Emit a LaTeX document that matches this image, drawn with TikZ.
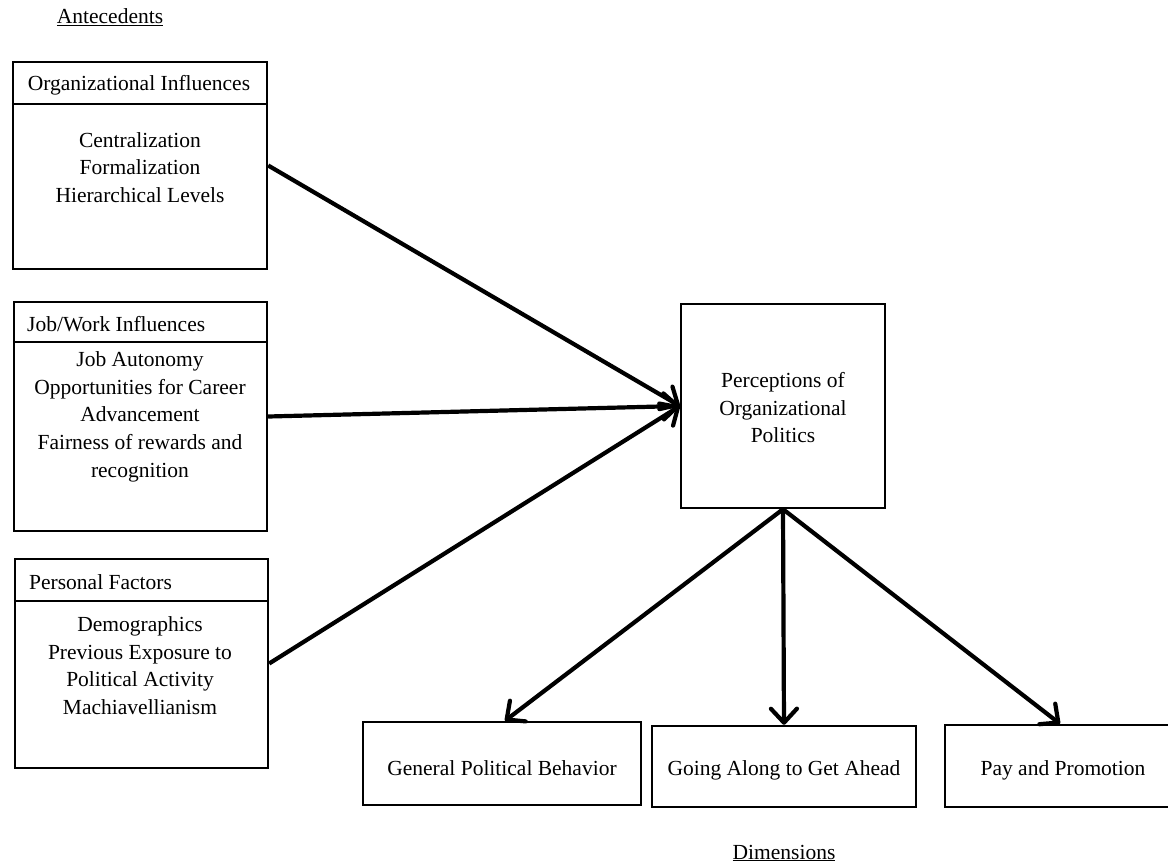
\documentclass[tikz,border=0pt]{standalone}
\usepackage{fontspec}
\setmainfont{Liberation Serif}
\usetikzlibrary{arrows.meta}
\begin{document}
\begin{tikzpicture}[x=1pt,y=-1pt,
  txt/.style={font=\fontsize{21.5}{27.7}\selectfont, align=center, inner sep=0pt},
  hdr/.style={txt, anchor=west},
  frame/.style={draw, line width=2.4pt, inner sep=0pt},
  link/.style={line width=4.2pt,
    -{Straight Barb[length=14pt,width=26pt,line width=4.2pt,round]}}]
\useasboundingbox (0,0) rectangle (1168,865);

% antecedent boxes
\node[frame, minimum width=254pt, minimum height=207pt] (org) at (140,165.5) {};
\node[frame, minimum width=253pt, minimum height=229pt] (job) at (140.5,416.5) {};
\node[frame, minimum width=253pt, minimum height=209pt] (pers) at (141.5,663.5) {};

% header dividers
\coordinate (orgdiv) at (0,104);
\coordinate (jobdiv) at (0,342);
\coordinate (persdiv) at (0,601);
\draw[line width=2.4pt] (org.west |- orgdiv) -- (org.east |- orgdiv);
\draw[line width=2.4pt] (job.west |- jobdiv) -- (job.east |- jobdiv);
\draw[line width=2.4pt] (pers.west |- persdiv) -- (pers.east |- persdiv);

% central construct and dimensions
\node[frame, minimum width=204pt, minimum height=204pt] (pop) at (783,406) {};
\node[frame, minimum width=278pt, minimum height=83pt] (gpb) at (502,763.5) {};
\node[frame, minimum width=264pt, minimum height=81pt] (gaga) at (784,766.5) {};
\node[frame, minimum width=225pt, minimum height=82pt] (pp) at (1057.5,766) {};

% texts
\node[txt] (antlbl) at (110,17) {\underline{Antecedents}};
\node[txt] (orghdr) at (139,85) {Organizational Influences};
\node[txt] (orgbody) at (140,167.5) {Centralization\\Formalization\\Hierarchical Levels};
\node[hdr] (jobhdr) at (27,324) {Job/Work Influences};
\node[txt] (jobbody) at (140,416.6) {Job Autonomy\\Opportunities for Career\\Advancement\\Fairness of rewards and\\recognition};
\node[hdr] (pershdr) at (29,582) {Personal Factors};
\node[txt] (persbody) at (140,665.5) {Demographics\\Previous Exposure to\\Political Activity\\Machiavellianism};
\node[txt] (poptxt) at (783,407.7) {Perceptions of\\Organizational\\Politics};
\node[txt] (gpbtxt) at (502,768) {General Political Behavior};
\node[txt] (gagatxt) at (784,770) {Going Along to Get Ahead};
\node[txt] (pptxt) at (1063,770) {Pay and Promotion};
\node[txt] (dimlbl) at (784,853) {\underline{Dimensions}};

% connectors
\draw[link] (org.east) -- (pop.west);
\draw[link] (job.east) -- (pop.west);
\draw[link] (pers.east) -- (pop.west);
\draw[link] (pop.south) -- ([xshift=3pt]gpb.north);
\draw[link] (pop.south) -- (gaga.north);
\draw[link] (pop.south) -- ([xshift=2.5pt]pp.north);
\end{tikzpicture}
\end{document}
